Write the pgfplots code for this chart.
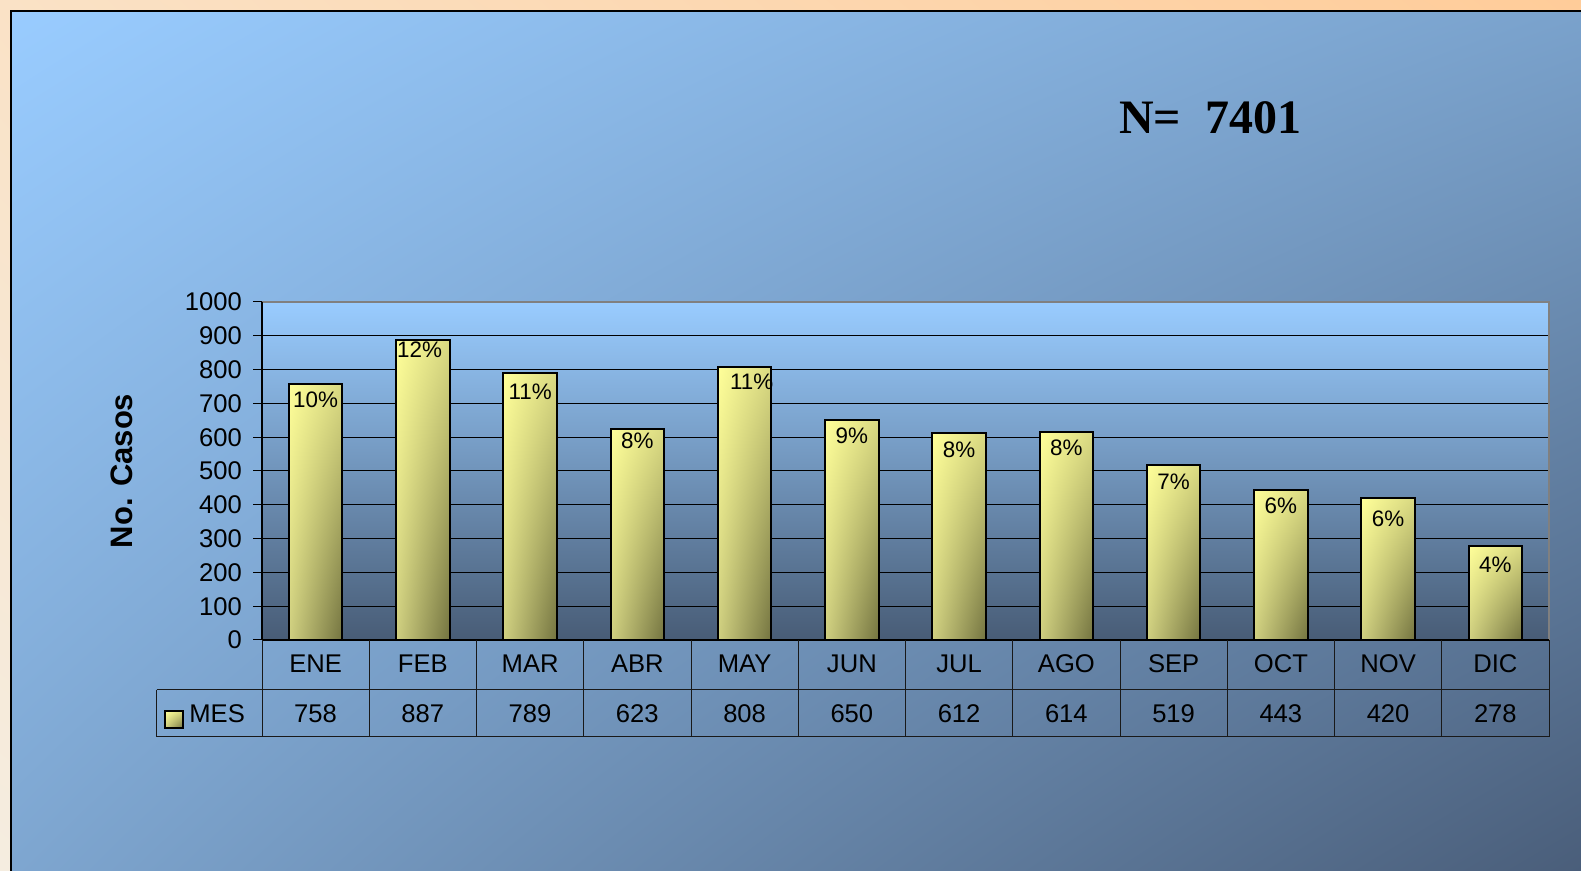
\documentclass[border=0pt]{standalone}
\usepackage{fontspec}
\setmainfont{Liberation Sans}
\newfontfamily\timesfont{Liberation Serif}
\usepackage{pgfplots}
\pgfplotsset{compat=1.18}
\usetikzlibrary{shadings}
\definecolor{frUL}{RGB}{250,226,198}
\definecolor{frUR}{RGB}{255,204,153}
\definecolor{frLL}{RGB}{245,237,224}
\definecolor{frLR}{RGB}{250,220,190}
\definecolor{paUL}{RGB}{153,204,255}
\definecolor{paUR}{RGB}{122,162,204}
\definecolor{paLL}{RGB}{126,166,208}
\definecolor{paLR}{RGB}{74,94,122}
\definecolor{plottop}{RGB}{153,204,255}
\definecolor{plotbot}{RGB}{72,92,118}
\definecolor{barUL}{RGB}{255,255,153}
\definecolor{barUR}{RGB}{217,217,130}
\definecolor{barLL}{RGB}{207,207,128}
\definecolor{barLR}{RGB}{115,115,64}
\definecolor{tabline}{RGB}{25,25,25}
\pgfplotsset{mybar/.style={ybar, bar width=0.5, draw=black, line width=1pt,
  upper left=barUL, upper right=barUR, lower left=barLL, lower right=barLR}}
\begin{document}
\begin{tikzpicture}
\begin{scope}[x=0.5pt,y=0.5pt]
\useasboundingbox (0,0) rectangle (1581,871);
\shade[upper left=frUL, upper right=frUR, lower left=frLL, lower right=frLR] (0,0) rectangle (1581,871);
\shade[upper left=paUL, upper right=paUR, lower left=paLL, lower right=paLR] (11,0) rectangle (1581,860);
\draw[black, line width=1pt] (11,0) -- (11,860) -- (1581,860);
\node[font=\timesfont\bfseries\fontsize{24}{29}\selectfont] at (1210,753) {N=\ \ 7401};
\end{scope}
\begin{axis}[
  at={(131pt,115.5pt)}, anchor=south west,
  scale only axis, width=643.5pt, height=169pt,
  xmin=0.5, xmax=12.5, ymin=0, ymax=1000,
  clip=false,
  axis background/.style={shade, top color=plottop, bottom color=plotbot},
  axis line style={draw=none},
  ytick={0,100,...,1000}, ytick pos=left,
  ymajorgrids, major grid style={black, line width=0.5pt},
  xtick={1,...,12},
  xticklabels={ENE,FEB,MAR,ABR,MAY,JUN,JUL,AGO,SEP,OCT,NOV,DIC},
  x tick style={draw=none},
  xticklabel style={anchor=center, yshift=-7.25pt, font=\fontsize{12.8}{15}\selectfont},
  y tick style={black, line width=0.5pt},
  tick align=outside, major tick length=4.5pt,
  yticklabel style={font=\fontsize{12.8}{15}\selectfont, xshift=-2pt},
  /pgf/number format/assume math mode=true,
  /pgf/number format/1000 sep={},
  ylabel={No. Casos},
  every axis y label/.style={at={(axis description cs:-0.1088,0.5)}, rotate=90, anchor=center,
    font=\bfseries\fontsize{15.5}{18}\selectfont},
]
\addplot[mybar] coordinates {(1,758)};
\addplot[mybar] coordinates {(2,887)};
\addplot[mybar] coordinates {(3,789)};
\addplot[mybar] coordinates {(4,623)};
\addplot[mybar] coordinates {(5,808)};
\addplot[mybar] coordinates {(6,650)};
\addplot[mybar] coordinates {(7,612)};
\addplot[mybar] coordinates {(8,614)};
\addplot[mybar] coordinates {(9,519)};
\addplot[mybar] coordinates {(10,443)};
\addplot[mybar] coordinates {(11,420)};
\addplot[mybar] coordinates {(12,278)};
\addplot[draw=none, nodes near coords, point meta=explicit symbolic,
  nodes near coords align={center},
  every node near coord/.append style={font=\fontsize{11.2}{13}\selectfont, text=black}]
  coordinates {(1,712)[10\%] (1.97,858)[12\%] (3,734)[11\%] (4,590)[8\%] (5.065,763)[11\%] (6,605)[9\%]
               (7,563)[8\%] (8,569)[8\%] (9,467)[7\%] (10,396)[6\%] (11,358)[6\%] (12,223)[4\%]};
\end{axis}
\begin{scope}[x=0.5pt,y=0.5pt]
% plot frame
\draw[gray, line width=1pt] (262,569) -- (1549,569) -- (1549,231);
\draw[black, line width=1pt] (262,231) -- (262,569);
\draw[black, line width=0.75pt] (262,231) -- (1549,231);
% data table
\draw[tabline, line width=0.5pt] (156.7,181) -- (1549,181);
\draw[tabline, line width=0.5pt] (156.7,134) -- (1549,134);
\draw[tabline, line width=0.5pt] (156.7,181) -- (156.7,134);
\foreach \k in {0,...,12} {
  \draw[tabline, line width=0.5pt] ({262+107.25*\k},231) -- ({262+107.25*\k},134);
}
\shade[upper left=barUL, upper right=barUR, lower left=barLL, lower right=barLR] (165,143) rectangle (183,160);
\draw[black, line width=0.75pt] (165,143) rectangle (183,160);
\node[anchor=west, inner sep=0pt, font=\fontsize{12.8}{15}\selectfont] at (189,157) {MES};
\foreach \v [count=\i from 0] in {758,887,789,623,808,650,612,614,519,443,420,278} {
  \node[font=\fontsize{12.8}{15}\selectfont] at ({262+107.25*\i+53.6},157) {\v};
}
\end{scope}
\end{tikzpicture}
\end{document}
